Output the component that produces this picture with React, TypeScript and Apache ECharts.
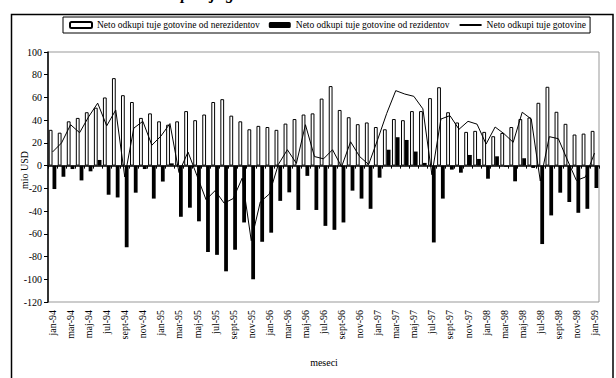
import React, { useEffect, useRef } from 'react';
import * as echarts from 'echarts';

const monthNames = ['jan', 'feb', 'mar', 'apr', 'maj', 'jun', 'jul', 'avg', 'sept', 'okt', 'nov', 'dec'];
const years = ['94', '95', '96', '97', '98'];
const categories: string[] = [];
years.forEach((y) => monthNames.forEach((m) => categories.push(`${m}-${y}`)));
categories.push('jan-99');

const seriesNames = [
  'Neto odkupi tuje gotovine od nerezidentov',
  'Neto odkupi tuje gotovine od rezidentov',
  'Neto odkupi tuje gotovine',
];

// Net purchases from non-residents (white bars), mio USD
const nonResidents = [
  31.5, 29, 39, 42, 47, 51, 60, 77, 62, 56, 42, 46,
  39, 36, 39, 48, 40, 45, 56, 58.5, 44, 39, 32, 35,
  34, 31.5, 37, 41, 45, 46, 59, 70, 49, 42.6, 36.5, 38,
  34, 32, 41, 40, 48, 48, 59.4, 69, 47, 38, 29.7, 30.6,
  29.7, 25.9, 28.8, 34, 41, 42.4, 55.3, 69.4, 47.4, 36.8, 27.4, 28.2,
  30.6,
];

// Net purchases from residents (black bars), mio USD
const residents = [
  -20.6, -9.7, -3, -13, -5, 5, -25.6, -28, -71.8, -23.8, -3, -29,
  -14, 2, -45, -37, -49, -76, -78.5, -93, -74, -50, -100, -67,
  -59, -31, -23.5, -39, -9, -39, -53, -56.5, -50, -22, -29, -38,
  -10.6, 14, 25, 22.6, 12.4, 2.4, -67.6, -29, -3.5, -6.2, 9.4, 5.9,
  -11.5, 8.2, -1, -13.8, 6.5, -2, -69, -43.8, -23.8, -32, -41.5, -38,
  -19.7,
];

// Total net purchases (line), mio USD
const total = [
  12, 20, 36, 29, 43, 55, 35, 49, -10, 33, 39, 18,
  26, 37, -6, 12, -9, -30, -22, -33, -29, -11, -66, -32,
  -25, 1, 14, 2, 36, 8, 6, 14, -1, 21, 8, 1,
  23, 46, 66, 63, 61, 50, -8, 41, 44, 32, 39, 36.5,
  19, 34, 28, 20.5, 47, 41, -13.5, 25.5, 23.7, 5, -13, -10,
  11,
];

const yMin = -120;
const yMax = 100;
const yStep = 20;

const FONT = "'Liberation Serif', 'Times New Roman', serif";

export default function App() {
  const ref = useRef<HTMLDivElement>(null);

  useEffect(() => {
    if (!ref.current) return;
    const chart = echarts.init(ref.current, undefined, { renderer: 'svg' });
    chart.setOption({
      animation: false,
      backgroundColor: '#fff',
      textStyle: { fontFamily: FONT, color: '#000' },
      graphic: [
        {
          type: 'rect',
          shape: { x: 11.5, y: 14.5, width: 601.5, height: 400 },
          style: { fill: 'none', stroke: '#000', lineWidth: 1.5 },
          silent: true,
        },
        {
          type: 'text',
          x: 113,
          y: 1.5,
          style: {
            text: 'Neto odkupi tuje gotovine od nerezidentov in rezidentov',
            font: `italic bold 16px ${FONT}`,
            fill: '#000',
            verticalAlign: 'bottom',
            align: 'left',
          },
        },
        {
          type: 'text',
          x: 24,
          y: 170,
          rotation: Math.PI / 2,
          style: {
            text: 'mio USD',
            font: `10px ${FONT}`,
            fill: '#000',
            align: 'center',
            verticalAlign: 'middle',
          },
        },
        {
          type: 'text',
          x: 324,
          y: 362,
          style: {
            text: 'meseci',
            font: `10px ${FONT}`,
            fill: '#000',
            align: 'center',
            verticalAlign: 'middle',
          },
        },
      ],
      legend: {
        left: 63,
        top: 17,
        padding: [3, 4, 3, 6],
        itemGap: 9,
        itemWidth: 22,
        itemHeight: 6,
        borderColor: '#000',
        borderWidth: 1,
        textStyle: { fontFamily: FONT, fontSize: 9.5, color: '#000' },
        data: [
          seriesNames[0],
          seriesNames[1],
          { name: seriesNames[2], itemStyle: { opacity: 0 } },
        ],
      },
      grid: {
        left: 48,
        right: 17,
        top: 52,
        bottom: 76,
        show: true,
        borderColor: '#999',
        borderWidth: 1,
        backgroundColor: 'transparent',
      },
      xAxis: [
        {
          type: 'category',
          data: categories,
          position: 'bottom',
          axisLine: { show: false, onZero: false },
          axisTick: { show: false },
          axisLabel: {
            interval: 1,
            rotate: 90,
            margin: 8,
            fontSize: 10,
            fontFamily: FONT,
            color: '#000',
          },
        },
        {
          type: 'category',
          data: categories,
          position: 'bottom',
          axisLine: { show: true, onZero: true, lineStyle: { color: '#000', width: 1.5 } },
          axisTick: { show: true, interval: 0, length: 3, lineStyle: { color: '#000' } },
          axisLabel: { show: false },
        },
      ],
      yAxis: {
        type: 'value',
        min: yMin,
        max: yMax,
        interval: yStep,
        splitLine: { show: false },
        axisLine: { show: true, lineStyle: { color: '#000', width: 1.5 } },
        axisTick: { show: true, length: 4, lineStyle: { color: '#000' } },
        axisLabel: { fontSize: 10, fontFamily: FONT, color: '#000', margin: 6 },
      },
      series: [
        {
          name: seriesNames[0],
          type: 'bar',
          data: nonResidents,
          barGap: '0%',
          barCategoryGap: '16%',
          itemStyle: { color: '#fff', borderColor: '#000', borderWidth: 1 },
        },
        {
          name: seriesNames[1],
          type: 'bar',
          data: residents,
          itemStyle: { color: '#000' },
        },
        {
          name: seriesNames[2],
          type: 'line',
          data: total,
          symbol: 'none',
          lineStyle: { color: '#000', width: 1 },
          itemStyle: { color: '#000' },
          z: 5,
        },
      ],
    });
    return () => chart.dispose();
  }, []);

  return (
    <div
      ref={ref}
      style={{ position: 'fixed', left: 0, top: 0, width: 616, height: 378 }}
    />
  );
}
